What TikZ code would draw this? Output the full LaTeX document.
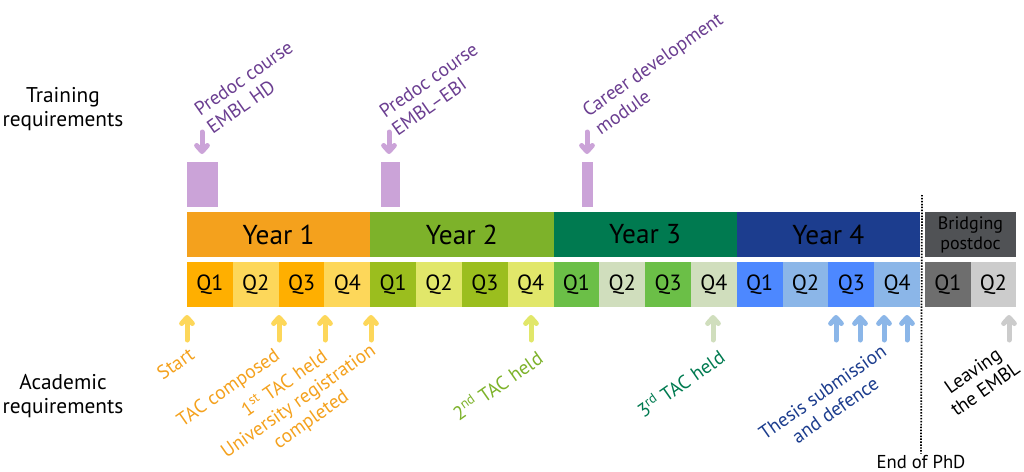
\documentclass[tikz,border=0pt]{standalone}
\usepackage{fontspec}
\setmainfont{PT Sans}
\usetikzlibrary{positioning,arrows.meta}

\definecolor{yrone}{HTML}{F4A11D}
\definecolor{qoneA}{HTML}{FFAF00}
\definecolor{qoneB}{HTML}{FDD75A}
\definecolor{yrtwo}{HTML}{7DB22A}
\definecolor{qtwoA}{HTML}{9BBE1E}
\definecolor{qtwoB}{HTML}{E1E76A}
\definecolor{yrthree}{HTML}{007A50}
\definecolor{qthreeA}{HTML}{6BBF47}
\definecolor{qthreeB}{HTML}{D0DEBD}
\definecolor{yrfour}{HTML}{1C3D8E}
\definecolor{qfourA}{HTML}{4D88FF}
\definecolor{qfourB}{HTML}{8BB6E8}
\definecolor{yrpost}{HTML}{505255}
\definecolor{qpostA}{HTML}{6E6E6E}
\definecolor{qpostB}{HTML}{CCCCCC}
\definecolor{course}{HTML}{CBA3D8}
\definecolor{coursetxt}{HTML}{6B3E91}

\newcommand{\yrw}{137.44pt}
\newcommand{\qw}{34.36pt}
\newcommand{\rowh}{33.75pt}
\newcommand{\gap}{3.75pt}
\newcommand{\yrfont}{\fontsize{20.5}{24}\selectfont}
\newcommand{\qfont}{\fontsize{16.5}{19}\selectfont}
\newcommand{\lblfont}{\fontsize{14.5}{16.5}\selectfont}

\tikzset{
  yearbox/.style={minimum width=\yrw, minimum height=\rowh, inner sep=0pt,
                  outer sep=0pt, font=\yrfont},
  qbox/.style={minimum width=\qw, minimum height=\rowh, inner sep=0pt,
               outer sep=0pt, font=\qfont},
  coursebox/.style={fill=course, minimum height=\rowh, inner sep=0pt,
                    outer sep=0pt, anchor=north west},
  courselabel/.style={rotate=35, anchor=south west, align=left, inner sep=0pt,
                      text=coursetxt, font=\lblfont},
  acadlabel/.style={rotate=35, anchor=north east, align=center, inner sep=0pt,
                    font=\lblfont},
  sidelabel/.style={align=center, font=\fontsize{16}{18}\selectfont},
  uparr/.style={line width=3.75pt, line cap=round, shorten >=6pt,
                -{Straight Barb[length=4.5pt,width=8pt,round]}},
  dnarr/.style={uparr, draw=course}
}

\begin{document}
\begin{tikzpicture}[x=0.75pt,y=-0.75pt]
  \useasboundingbox (0,0) rectangle (1024,471);

  \node (train) [sidelabel] at (63,109) {Training\\requirements};
  \node (acad)  [sidelabel] at (63,396) {Academic\\requirements};

  %% years
  \node (y1) [yearbox, fill=yrone, anchor=north west] at (187,212) {Year 1};
  \node (y2) [yearbox, fill=yrtwo, right=0pt of y1]  {Year 2};
  \node (y3) [yearbox, fill=yrthree, right=0pt of y2] {Year 3};
  \node (y4) [yearbox, fill=yrfour, right=0pt of y3]  {Year 4};
  \node (yb) [yearbox, fill=yrpost, minimum width=68.25pt, right=\gap of y4,
              align=center, font=\fontsize{13.5}{15}\selectfont] {Bridging\\postdoc};

  %% quarters
  \node (q11) [qbox, fill=qoneA, below=\gap of y1.south west, anchor=north west] {Q1};
  \node (q12) [qbox, fill=qoneB, right=0pt of q11] {Q2};
  \node (q13) [qbox, fill=qoneA, right=0pt of q12] {Q3};
  \node (q14) [qbox, fill=qoneB, right=0pt of q13] {Q4};
  \node (q21) [qbox, fill=qtwoA, right=0pt of q14] {Q1};
  \node (q22) [qbox, fill=qtwoB, right=0pt of q21] {Q2};
  \node (q23) [qbox, fill=qtwoA, right=0pt of q22] {Q3};
  \node (q24) [qbox, fill=qtwoB, right=0pt of q23] {Q4};
  \node (q31) [qbox, fill=qthreeA, right=0pt of q24] {Q1};
  \node (q32) [qbox, fill=qthreeB, right=0pt of q31] {Q2};
  \node (q33) [qbox, fill=qthreeA, right=0pt of q32] {Q3};
  \node (q34) [qbox, fill=qthreeB, right=0pt of q33] {Q4};
  \node (q41) [qbox, fill=qfourA, right=0pt of q34] {Q1};
  \node (q42) [qbox, fill=qfourB, right=0pt of q41] {Q2};
  \node (q43) [qbox, fill=qfourA, right=0pt of q42] {Q3};
  \node (q44) [qbox, fill=qfourB, right=0pt of q43] {Q4};
  \node (qb1) [qbox, fill=qpostA, minimum width=34.13pt,
               below=\gap of yb.south west, anchor=north west] {Q1};
  \node (qb2) [qbox, fill=qpostB, minimum width=34.13pt, right=0pt of qb1] {Q2};

  %% end of PhD
  \coordinate (phdtop) at (922,195);
  \node (endphd) [font=\fontsize{14}{16}\selectfont, inner sep=1pt] at (921,462) {End of PhD};
  \draw[line width=1.3pt, dash pattern=on 1.1pt off 1.1pt] (phdtop) -- (endphd.north);

  %% training
  \node (pHD)  [coursebox, minimum width=23.25pt] at (187,162) {};
  \node (pEBI) [coursebox, minimum width=14.25pt] at (381,162) {};
  \node (pCDM) [coursebox, minimum width=8.25pt]  at (582,162) {};

  \coordinate (aHD)  at (202,132);
  \coordinate (aEBI) at (389,132);
  \coordinate (aCDM) at (587,132);
  \draw[dnarr] (aHD)  -- (aHD |- pHD.north);
  \draw[dnarr] (aEBI) -- (aEBI |- pEBI.north);
  \draw[dnarr] (aCDM) -- (aCDM |- pCDM.north);

  \node (lHD)  [courselabel] at (213,135) {Predoc course\\EMBL HD};
  \node (lEBI) [courselabel] at (398,137) {Predoc course\\EMBL--EBI};
  \node (lCDM) [courselabel] at (601,136) {Career development\\module};

  %% academic
  \coordinate (mStart) at (187,340);
  \coordinate (mComp)  at (279,340);
  \coordinate (mTACa)  at (325,340);
  \coordinate (mUni)   at (371,340);
  \coordinate (mTACb)  at (531,340);
  \coordinate (mTACc)  at (713,340);
  \coordinate (mThA)   at (836,340);
  \coordinate (mThB)   at (860,340);
  \coordinate (mThC)   at (884,340);
  \coordinate (mThD)   at (907,340);
  \coordinate (mLeave) at (1009,340);

  \draw[uparr, draw=qoneB] (mStart) -- (mStart |- q11.south);
  \draw[uparr, draw=qoneB] (mComp)  -- (mComp |- q12.south);
  \draw[uparr, draw=qoneB] (mTACa)  -- (mTACa |- q13.south);
  \draw[uparr, draw=qoneB] (mUni)   -- (mUni |- q14.south);
  \draw[uparr, draw=qtwoB] (mTACb)  -- (mTACb |- q24.south);
  \draw[uparr, draw=qthreeB] (mTACc) -- (mTACc |- q34.south);
  \draw[uparr, draw=qfourB] (mThA)  -- (mThA |- q43.south);
  \draw[uparr, draw=qfourB] (mThB)  -- (mThB |- q43.south);
  \draw[uparr, draw=qfourB] (mThC)  -- (mThC |- q44.south);
  \draw[uparr, draw=qfourB] (mThD)  -- (mThD |- q44.south);
  \draw[uparr, draw=qpostB] (mLeave) -- (mLeave |- qb2.south);

  \node (lStart) [acadlabel, text=yrone] at (188,346) {Start};
  \node (lComp)  [acadlabel, text=yrone] at (273,347) {TAC composed};
  \node (lTACa)  [acadlabel, text=yrone] at (320,347) {1\textsuperscript{st} TAC held};
  \node (lUni)   [acadlabel, text=yrone] at (369,342) {University registration\\completed};
  \node (lTACb)  [acadlabel, text=yrtwo] at (535,348) {2\textsuperscript{nd} TAC held};
  \node (lTACc)  [acadlabel, text=yrthree] at (717,347) {3\textsuperscript{rd} TAC held};
  \node (lThesis) [acadlabel, text=yrfour] at (880,343) {Thesis submission\\and defence};
  \node (lLeave) [acadlabel] at (1001,342) {Leaving\\the EMBL};
\end{tikzpicture}
\end{document}
